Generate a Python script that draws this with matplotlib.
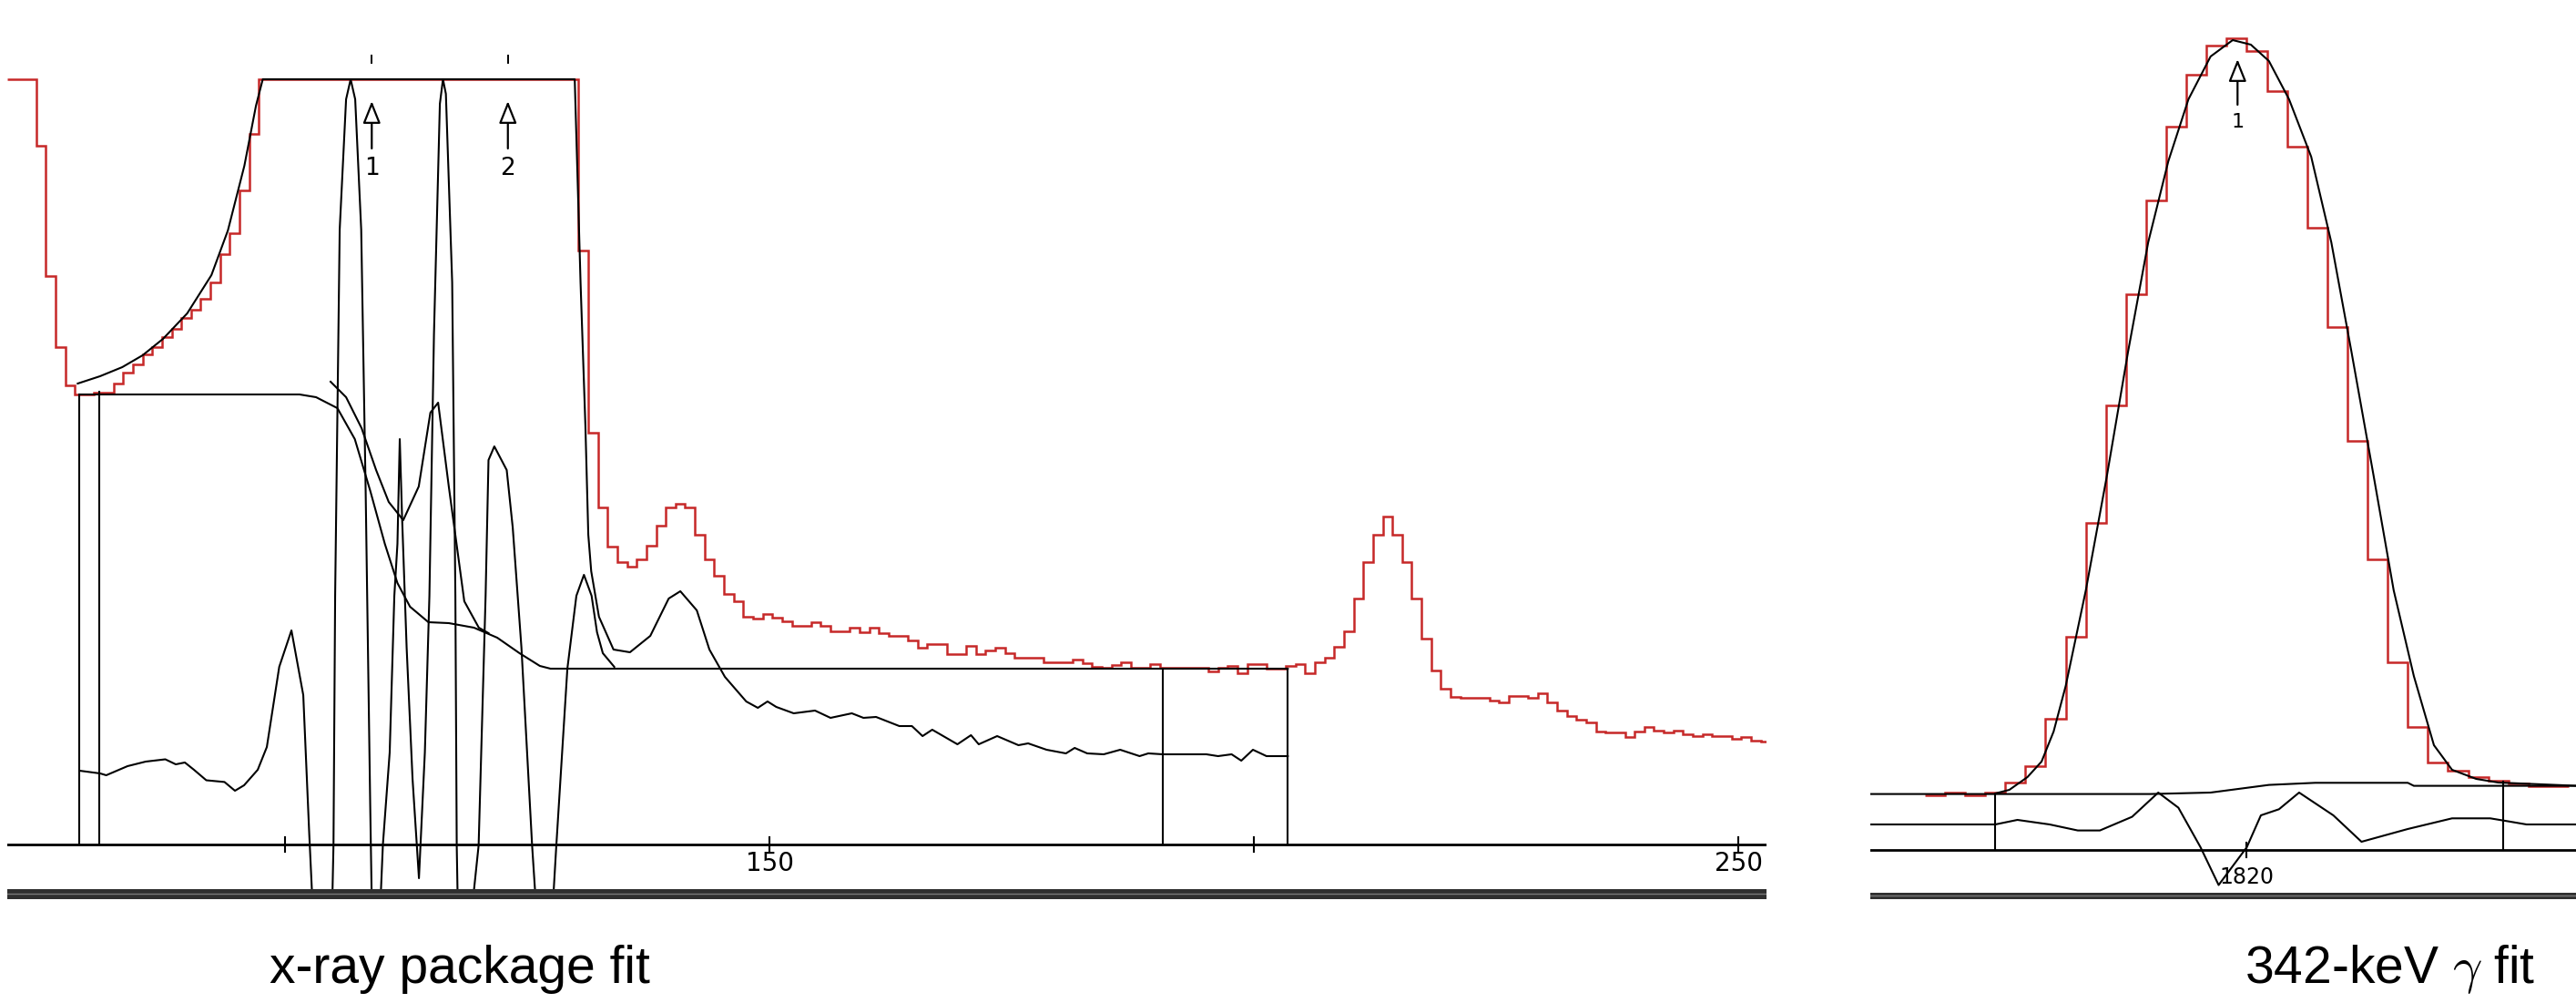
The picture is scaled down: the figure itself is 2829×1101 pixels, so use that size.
import numpy as np
import matplotlib
matplotlib.use("Agg")
import matplotlib.pyplot as plt

plt.rcParams["mathtext.fontset"] = "cm"

# ---------------- left panel : x-ray package fit ----------------
xr_first_channel = 71
xr_counts = [
    1200, 1200, 1200, 767, 624, 546, 504, 494, 494, 496,          # 71-80
    496, 506, 518, 527, 538, 546, 557, 566, 578, 587,             # 81-90
    599, 617, 648, 671, 718, 780, 905, 1010, 1120, 1240,          # 91-100
    1400, 1650, 1980, 2400, 2900, 3300, 3400, 3150, 2700, 2300,   # 101-110
    2100, 2050, 2200, 2600, 3000, 3200, 3050, 2600, 2100, 1800,   # 111-120
    1700, 1750, 1850, 1800, 1600, 1350, 1150, 1000, 900, 652,     # 121-130
    452, 370, 327, 310, 305, 313, 328, 350, 370, 374,             # 131-140
    370, 340, 313, 295, 275, 267, 250, 248, 253, 249,             # 141-150
    245, 240, 240, 244, 240, 234, 234, 238, 233, 238,             # 151-160
    232, 229, 229, 224, 216, 220, 220, 209, 209, 218,             # 161-170
    209, 213, 216, 210, 205, 205, 205, 200, 200, 200,             # 171-180
    203, 199, 195, 194, 197, 200, 194, 194, 198, 194,             # 181-190
    194, 194, 194, 194, 190, 194, 196, 188, 198, 198,             # 191-200
    193, 193, 196, 198, 188, 200, 205, 217, 234, 270,             # 201-210
    310, 340, 360, 340, 310, 270, 226, 191, 171, 162,             # 211-220
    161, 161, 161, 158, 156, 163, 163, 161, 166, 156,             # 221-230
    147, 141, 137, 134, 124, 123, 123, 118, 124, 129,             # 231-240
    125, 123, 125, 121, 119, 121, 119, 119, 116, 118,             # 241-250
    114, 113,                                                      # 251-252
]

xr_fit_x = [78.6, 80.9, 83.2, 85.3, 87.4, 89.9, 92.4, 94.1, 95.8, 97.0, 97.7, 98.5,
            129.6, 129.9, 130.5, 131.0, 131.3, 131.6, 132.4, 133.9, 135.6, 137.7,
            139.6, 140.8, 142.5, 143.8, 145.4, 147.6, 148.8, 149.8, 150.7, 152.5,
            154.7, 156.3, 158.5, 159.7, 161.0, 163.4, 164.7, 165.8, 166.8, 169.4,
            170.8, 171.6, 173.5, 175.7, 176.7, 178.6, 180.6, 181.5, 182.8, 184.5,
            186.2, 188.2, 189.1, 190.6, 195.1, 196.3, 197.7, 198.7, 199.9, 201.3, 203.5]
xr_fit_y = [506, 514, 524, 537, 555, 583, 625, 674, 745, 811, 845, 900,
            900, 880, 617, 460, 340, 300, 250, 214, 211, 229,
            270, 278, 257, 214, 184, 157, 150, 157, 151, 144,
            147, 139, 144, 139, 140, 130, 130, 119, 126, 110,
            120, 110, 119, 109, 111, 104, 100, 106, 100, 99,
            104, 97, 100, 99, 99, 97, 99, 92, 104, 97, 97]

xr_bg_x = [78.8, 101.5, 103.2, 105.4, 107.2, 108.8, 110.3, 111.6, 112.9, 114.8,
           116.9, 119.5, 121.9, 124.2, 126.3, 127.4, 203.5]
xr_bg_y = [494, 494, 491, 479, 445, 388, 330, 287, 261, 244,
           243, 238, 227, 210, 196, 193, 193]

xr_comp_x = [104.7, 106.3, 107.9, 109.4, 110.7, 112.2, 113.8, 115.0, 115.8, 116.9,
             118.5, 120.0, 121.0]
xr_comp_y = [508, 491, 457, 411, 376, 356, 393, 474, 485, 393, 267, 238, 232]

xr_resid_x = [78.79, 80.92, 81.54, 83.74, 85.62, 87.64, 88.72, 89.66, 90.6, 91.87,
              93.75, 94.83, 95.77, 97.18, 98.12, 99.4, 100.66, 101.88, 102.5, 102.77,
              103.8, 104.9, 105.0, 105.17, 105.64, 106.3, 106.77, 107.24, 107.86, 108.32,
              108.79, 108.93, 109.4, 109.9, 110.1, 110.8, 111.28, 111.6, 111.84, 112.08,
              112.55, 113.16, 113.82, 114.43, 114.9, 115.37, 115.98, 116.3, 116.6, 117.25,
              117.58, 117.72, 117.8, 118.6, 119.5, 119.98, 120.7, 121.0, 121.6, 122.88,
              123.5, 124.4, 125.5, 125.8, 126.8, 127.73, 128.0, 129.14, 130.07, 130.85,
              131.64, 132.2, 132.8, 133.98]
xr_resid_y = [81, 78, 76, 86, 91, 93.5, 88, 90, 82, 70.5,
              68.6, 59, 65, 82, 107, 195, 235, 164, 11, -53,
              -200, -53, 0, 273, 675, 818, 845, 818, 675, 388,
              43, -53, -200, -53, 0, 101, 273, 330, 445, 359,
              216, 72, -37, 101, 273, 560, 813, 870, 824, 617,
              273, -1, -53, -200, -53, -1, 273, 422, 437, 411,
              348, 216, -1, -53, -200, -53, -1, 193, 273, 296,
              273, 233, 210, 195]

xr_markers = [78.8, 80.85, 190.6, 203.5]
xr_marker_tops = [494, 497, 193, 193]
xr_ticks = [100, 150, 200, 250]
xr_tick_labels = ["", "150", "", "250"]
xr_peak_pos = [108.95, 123.0]
xr_peak_labels = ["1", "2"]

# ---------------- right panel : 342-keV gamma fit ----------------
g_first_channel = 1804
g_counts = [60.4, 63, 60.4, 63, 74, 92.4, 144, 234, 359, 488,
            610, 713, 794, 851, 883, 891, 877, 833.5, 772, 683,
            574, 449, 319, 206, 135, 96, 87, 80, 76, 73, 70, 70]

g_fit_x = [1807.5, 1808.2, 1809.1, 1809.8, 1810.4, 1811.0, 1812.0, 1813.05, 1814.1, 1815.1,
           1816.1, 1817.1, 1818.2, 1819.3, 1820.2, 1821.1, 1822.1, 1823.2, 1824.2, 1825.2,
           1826.3, 1827.3, 1828.3, 1829.3, 1830.2, 1831.4, 1832.5, 1836.4]
g_fit_y = [62, 66, 80, 97, 130, 180, 285, 411, 547, 667,
           756, 824, 871, 889, 884, 866, 824, 761, 667, 547,
           411, 285, 191, 115, 88, 78, 74, 70.4]

g_bg_x = [1801.3, 1815.2, 1818.2, 1821.1, 1823.4, 1828.0, 1828.3, 1836.4]
g_bg_y = [61.4, 61.4, 63, 71.4, 73.7, 73.7, 70.4, 70.4]

g_resid_x = [1801.3, 1805.0, 1807.5, 1808.6, 1810.2, 1811.6, 1812.7, 1814.3, 1815.6, 1816.6,
             1817.7, 1818.6, 1820.0, 1820.7, 1821.6, 1822.6, 1824.3, 1825.7, 1828.0, 1830.2,
             1832.1, 1833.0, 1833.9, 1836.4]
g_resid_y = [28, 28, 28, 33, 28, 21.4, 21.4, 36.4, 63, 46.4,
             3, -38.5, 3, 38, 44.7, 63, 38, 9, 23, 34.7,
             34.7, 31.4, 28, 28]

g_markers = [1807.5, 1832.73]
g_marker_tops = [61.4, 75]
g_ticks = [1820]
g_tick_labels = ["1820"]
g_peak_pos = [1819.54]
g_peak_labels = ["1"]

titles = ["x-ray package fit", r"342-keV $\gamma$ fit"]

# ---------------- drawing ----------------
RED = "#c62828"
LW = 1.5
W, H = 2829, 1101
fig = plt.figure(figsize=(W / 100, H / 100), dpi=100)
tick_font = ["Liberation Sans Narrow", "DejaVu Sans"]


def panel(rect, xlim, ylim, clip_lo, clip_hi, counts, first, edge_off,
          curves, markers, marker_tops, ticks, tick_labels, label_y, tick_fs,
          peaks, peak_labels, arrow_tip, arrow_tail, label_py, peak_fs, bar):
    ax = fig.add_axes(rect)
    ax.set_xlim(*xlim)
    ax.set_ylim(*ylim)
    ax.axis("off")
    vals = np.clip(np.array(counts, float), clip_lo, clip_hi)
    edges = np.arange(first, first + len(vals) + 1) + edge_off
    ax.stairs(vals, edges, baseline=None, color=RED, lw=LW + 0.3, zorder=2)
    for cx, cy in curves:
        ax.plot(cx, np.clip(np.array(cy, float), clip_lo, clip_hi),
                color="black", lw=LW, zorder=3)
    for mx, mt in zip(markers, marker_tops):
        ax.plot([mx, mx], [0, mt], color="black", lw=LW, zorder=3)
    ax.axhline(0, color="black", lw=LW + 0.5, zorder=4)
    for t, lab in zip(ticks, tick_labels):
        ax.plot([t, t], [-8, 8], color="black", lw=LW, zorder=4)
        if lab:
            ax.text(t, label_y, lab, ha="center", va="center",
                    fontsize=tick_fs, family=tick_font, zorder=4)
    for p, lab in zip(peaks, peak_labels):
        ax.annotate("", xy=(p, arrow_tip), xytext=(p, arrow_tail),
                    arrowprops=dict(arrowstyle="-|>,head_length=0.75,head_width=0.3",
                                    fc="white", ec="black", lw=1.6,
                                    mutation_scale=20, shrinkA=0, shrinkB=0),
                    zorder=5)
        ax.text(p, label_py, lab, ha="center", va="center", fontsize=peak_fs,
                family=tick_font, zorder=5)
    b0, b1 = bar
    ax.axhspan(b0, b1, color="#2f2f2f", zorder=10, lw=0)
    ax.axhline(b0 + 0.55 * (b1 - b0), color="#7a7a7a", lw=1.0, zorder=11)
    return ax


axL = panel([8 / W, 1 - 990 / H, 1932 / W, 935 / H], (71.33, 252.91), (-63, 872),
            -50, 840, xr_counts, xr_first_channel, 0.3,
            [(xr_bg_x, xr_bg_y), (xr_comp_x, xr_comp_y), (xr_resid_x, xr_resid_y),
             (xr_fit_x, xr_fit_y)],
            xr_markers, xr_marker_tops, xr_ticks, xr_tick_labels, -21, 20,
            xr_peak_pos, xr_peak_labels, 816, 764, 742, 19, (-60, -48.5))
for p in xr_peak_pos:
    axL.plot([p, p], [858, 866], color="black", lw=1.4)

axR = panel([2054 / W, 1 - 990 / H, 775 / W, 980 / H], (1801.29, 1836.36), (-57, 923),
            -47, 2000, g_counts, g_first_channel, 0.0,
            [(g_bg_x, g_bg_y), (g_resid_x, g_resid_y), (g_fit_x, g_fit_y)],
            g_markers, g_marker_tops, g_ticks, g_tick_labels, -30, 17,
            g_peak_pos, g_peak_labels, 868, 818, 799, 16, (-54, -46.5))

fig.text(505 / W, 1 - 1079 / H, titles[0], ha="center", va="baseline",
         fontsize=41, family=["Liberation Sans", "DejaVu Sans"])
fig.text(2625 / W, 1 - 1079 / H, titles[1], ha="center", va="baseline",
         fontsize=41, family=["Liberation Sans", "DejaVu Sans"])

fig.savefig("out.png", dpi=100, facecolor="white")
